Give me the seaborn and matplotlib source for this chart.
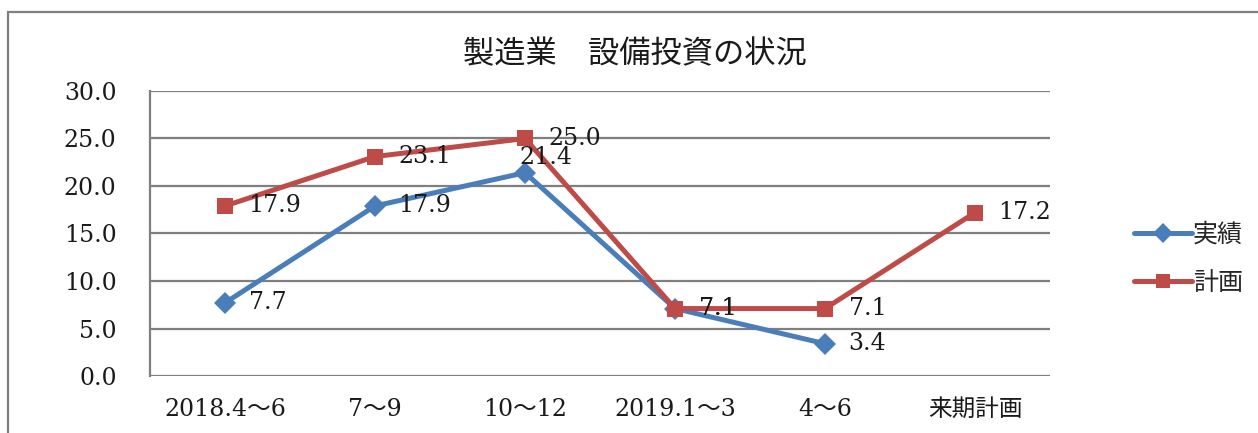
import matplotlib
matplotlib.use("Agg")
import matplotlib.pyplot as plt
from matplotlib.patches import Rectangle
import seaborn as sns
import pandas as pd

# Quarterly capital investment in manufacturing (%)
categories = ["2018.4～6", "7～9", "10～12", "2019.1～3", "4～6", "来期計画"]
actual = [7.7, 17.9, 21.4, 7.1, 3.4, None]
plan = [17.9, 23.1, 25.0, 7.1, 7.1, 17.2]
series_names = ["実績", "計画"]
title = "製造業　設備投資の状況"
y_ticks = [0, 5, 10, 15, 20, 25, 30]

sns.set_theme(style="white")
plt.rcParams["font.family"] = ["DejaVu Serif", "Noto Sans CJK JP"]

rows = []
for name, values in zip(series_names, [actual, plan]):
    for i, v in enumerate(values):
        if v is not None:
            rows.append({"pos": i, "value": v, "series": name})
df = pd.DataFrame(rows)

colors = {"実績": "#4A7EBB", "計画": "#BE4B48"}

fig = plt.figure(figsize=(12.58, 4.33), dpi=100)
ax = fig.add_axes([150 / 1258, 1 - 376 / 433, 900 / 1258, 285 / 433])

sns.lineplot(data=df, x="pos", y="value", hue="series", style="series",
             hue_order=series_names, style_order=series_names,
             palette=colors, markers={"実績": "D", "計画": "s"}, dashes=False,
             linewidth=3.6, markersize=11.5, markeredgewidth=0, sort=False,
             ax=ax, legend=True)

# data labels to the right of each point
for name, values in zip(series_names, [actual, plan]):
    for i, v in enumerate(values):
        if v is None:
            continue
        dx, dy = 17, 0
        if name == "実績" and i == 2:
            dx, dy = -4, 11
        ax.annotate(f"{v:.1f}", (i, v), xytext=(dx, dy), textcoords="offset points",
                    ha="left", va="center", fontsize=17, color="#1a1a1a")

ax.set_xlim(-0.5, len(categories) - 0.5)
ax.set_ylim(0, 30)
ax.set_xticks(range(len(categories)))
ax.set_xticklabels(categories)
ax.set_yticks(y_ticks)
ax.set_yticklabels([f"{t:.1f}" for t in y_ticks])
ax.tick_params(axis="y", length=0, pad=24, labelsize=17, labelcolor="#1a1a1a")
ax.tick_params(axis="x", length=0, pad=16, labelsize=17, labelcolor="#1a1a1a")
ax.set_xlabel("")
ax.set_ylabel("")
ax.grid(axis="y", color="#7f7f7f", linewidth=1.6)
ax.grid(axis="x", visible=False)
ax.set_axisbelow(True)
for side in ["top", "right", "bottom"]:
    ax.spines[side].set_visible(False)
ax.spines["left"].set_color("#7f7f7f")
ax.spines["left"].set_linewidth(1.6)

handles, labels = ax.get_legend_handles_labels()
ax.get_legend().remove()
fig.legend(handles, labels, loc="center left", bbox_to_anchor=(1124 / 1258, 1 - 259 / 433),
           frameon=False, fontsize=18, handlelength=2.3, handletextpad=0.05,
           labelspacing=1.0, borderaxespad=0, markerscale=0.9)

fig.text(635 / 1258, 1 - 55 / 433, title, ha="center", va="center", fontsize=22.5,
         color="#1a1a1a")

# chart frame
fig.patches.append(Rectangle((8 / 1258, -0.1), 1.2, 1.1 - 12 / 433,
                             transform=fig.transFigure, fill=False,
                             edgecolor="#7f7f7f", linewidth=1.6))

fig.savefig("out.png", dpi=100, facecolor="white")
